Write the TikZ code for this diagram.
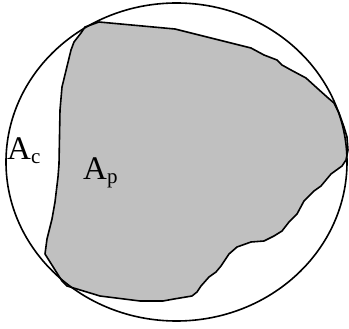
\documentclass[tikz,border=0pt]{standalone}
\usepackage{fontspec}
\setmainfont{Liberation Serif}
\begin{document}
\begin{tikzpicture}[x=1pt,y=-1pt,
  outline/.style={draw=black,line width=1.6pt,line join=round},
  lbl/.style={inner sep=0pt,anchor=base west,font=\fontsize{33}{33}\selectfont},
  sub/.style={font=\fontsize{21}{21}\selectfont}]
\useasboundingbox (0,0) rectangle (349,329);
\fill[fill={rgb,255:red,192;green,192;blue,192}] (99,22) -- (175,29) -- (187,32) -- (207,37) -- (227,42) -- (251,48) -- (264,55) -- (277,60) -- (282,65) -- (291,70) -- (306,78) -- (317,88) -- (327,97) -- (334,103) -- (339,113) -- (344,127) -- (347,137) -- (348,150) -- (346,160) -- (342,166) -- (331,174) -- (321,186) -- (314,191) -- (304,201) -- (297,214) -- (289,222) -- (282,231) -- (274,236) -- (264,241) -- (251,242) -- (237,247) -- (229,254) -- (221,266) -- (216,272) -- (209,277) -- (201,286) -- (197,292) -- (192,296) -- (174,299) -- (163,301) -- (140,301) -- (100,296) -- (67,286) -- (62,281) -- (45,254) -- (47,239) -- (52,219) -- (55,202) -- (58,177) -- (59,164) -- (60,110) -- (62,87) -- (71,50) -- (74,42) -- (81,33) -- (85,27) -- cycle;
\draw[outline] (99,22) -- (175,29) -- (187,32) -- (207,37) -- (227,42) -- (251,48) -- (264,55) -- (277,60) -- (282,65) -- (291,70) -- (306,78) -- (317,88) -- (327,97) -- (334,103) -- (339,113) -- (344,127) -- (347,137) -- (348,150) -- (346,160) -- (342,166) -- (331,174) -- (321,186) -- (314,191) -- (304,201) -- (297,214) -- (289,222) -- (282,231) -- (274,236) -- (264,241) -- (251,242) -- (237,247) -- (229,254) -- (221,266) -- (216,272) -- (209,277) -- (201,286) -- (197,292) -- (192,296) -- (174,299) -- (163,301) -- (140,301) -- (100,296) -- (67,286) -- (62,281) -- (45,254) -- (47,239) -- (52,219) -- (55,202) -- (58,177) -- (59,164) -- (60,110) -- (62,87) -- (71,50) -- (74,42) -- (81,33) -- (85,27) -- cycle;
\draw[outline] (176.5,162) ellipse [x radius=170.5, y radius=159];
\node[lbl] (ac) at (7,160) {A\raisebox{-4pt}{\fontsize{21}{21}\selectfont c}};
\node[lbl] (ap) at (83,180) {A\raisebox{-4pt}{\fontsize{21}{21}\selectfont p}};
\end{tikzpicture}
\end{document}
